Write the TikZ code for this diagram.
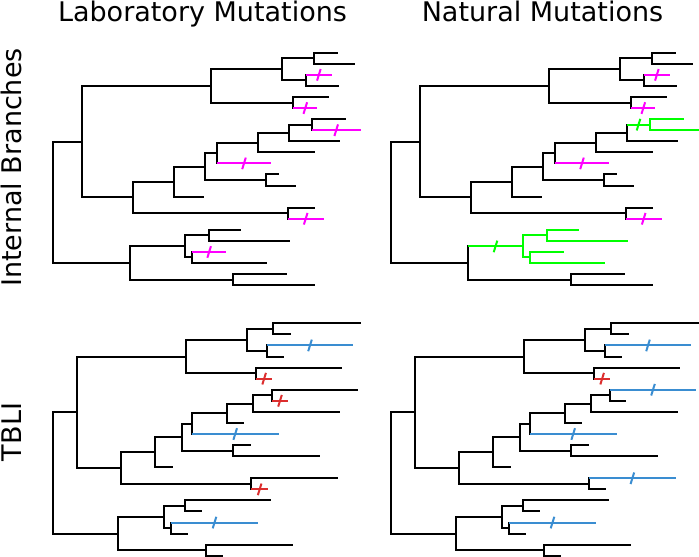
\documentclass[tikz,border=0pt]{standalone}
\usepackage{fontspec}
\setmainfont{DejaVu Sans}
\usetikzlibrary{calc}
\definecolor{labpink}{HTML}{FF00FF}
\definecolor{natgreen}{HTML}{00FF00}
\definecolor{tbliblue}{HTML}{3A8DD1}
\definecolor{tblired}{HTML}{DC2E2E}

\tikzset{
  branch/.style={line width=2pt,color=black},
  sidelabel/.style={rotate=90,anchor=base},
  title/.style={anchor=base},
}

% coordinates of the upper tree (internal nodes, then leaf ends)
\newcommand\uppertree{%
  \foreach \n/\x/\y in {root/52.7/14.5176,B/81.7/9.0352,D/210.7/4,F/282.3/2.5,H/314/1.5,
    I/306/3.5,G/293.3/5.5,E/133.3/14.0703,J/174.3/12.6406,L/205/11.2813,M/216.7/10.0625,
    O/258.3/9.125,P/289.3/8.25,Q/311.7/7.5,N/266/12.5,K/287.7/15.5,C/130/20,R/185/18.5,
    T/209/17.5,U/192.3/19.5,S/233.3/21.5}
    \coordinate (\n) at (\x,\y);
  \foreach \x [count=\i] in {338.3,355,331.7,339,328.7,317.3,345.7,360.7,340,315,271.3,
    279.3,295.7,204,315.3,323.7,241.3,290,226,266.7,286.7,315}
    \coordinate (l\i) at (\x,\i);
}
% coordinates of the lower tree
\newcommand\lowertree{%
  \foreach \n/\x/\y in {root/52.7/14.5176,B/77.3/9.0352,D/186/4,F/247.3/2.5,H/273.3/1.5,
    I/266.7/3.5,G/256/5.5,E/120.7/14.0703,J/155.3/12.6406,L/181.7/11.2813,M/191.7/10.0625,
    O/226.7/9.125,P/252.7/8.25,Q/271.7/7.5,N/232.7/12.5,K/251/15.5,C/117.7/20,R/164.3/18.5,
    T/185/17.5,U/171/19.5,S/205.7/21.5}
    \coordinate (\n) at (\x,\y);
  \foreach \x [count=\i] in {360.7,291,353.3,284.3,342.3,272.3,358.3,288.3,340,244,278.7,
    250.7,320,173,337.7,268.3,271.3,202.3,258,188.3,292.7,222.7}
    \coordinate (l\i) at (\x,\i);
}
\newcommand\drawtree{%
  \foreach \p/\c in {root/B,root/C,B/D,B/E,D/F,D/G,F/H,F/I,H/l1,H/l2,I/l3,I/l4,G/l5,G/l6,
    E/J,E/K,J/L,J/l14,L/M,L/N,M/O,M/l11,O/P,O/l10,P/Q,P/l9,Q/l7,Q/l8,N/l12,N/l13,K/l15,
    K/l16,C/R,C/S,R/T,R/U,T/l17,T/l18,U/l19,U/l20,S/l21,S/l22}
    \draw[branch] (\p) |- (\c);
}
% coloured branch with a mutation tick in its middle
\newcommand\mutbranch[3]{%
  \draw[branch,#1] (#2 |- #3) -- (#3);
  \draw[branch,#1] ($(#2 |- #3)!0.5!(#3)$) ++(-1.8pt,-5.8pt) -- ++(3.6pt,11.6pt);
}

\begin{document}
\begin{tikzpicture}[x=1pt,y=-1pt,font=\fontsize{27}{32}\selectfont]
  \useasboundingbox (0,0) rectangle (699,557);

  \node[title] (labtitle) at (202.5,21.7) {Laboratory Mutations};
  \node[title] (nattitle) at (542.5,21.7) {Natural Mutations};
  \node[sidelabel] (intlabel) at (21.7,167.5) {Internal Branches};
  \node[sidelabel] (tblilabel) at (21.7,432) {TBLI};

  % internal branches, laboratory
  \begin{scope}[y=-11.07pt,yshift=-41.63pt]
    \uppertree
    \drawtree
    \foreach \p/\c in {I/l3,G/l6,Q/l8,M/l11,K/l16,U/l19}
      {\mutbranch{labpink}{\p}{\c}}
  \end{scope}

  % internal branches, natural
  \begin{scope}[y=-11.07pt,yshift=-41.63pt,xshift=338pt]
    \uppertree
    \drawtree
    \foreach \p/\c in {I/l3,G/l6,M/l11,K/l16}
      {\mutbranch{labpink}{\p}{\c}}
    \mutbranch{natgreen}{P}{Q}
    \mutbranch{natgreen}{C}{R}
    \foreach \p/\c in {Q/l7,Q/l8,R/T,R/U,T/l17,T/l18,U/l19,U/l20}
      \draw[branch,natgreen] (\p) |- (\c);
  \end{scope}

  % TBLI, laboratory
  \begin{scope}[y=-11.07pt,yshift=-312.23pt]
    \lowertree
    \drawtree
    \foreach \p/\c in {I/l3,M/l11,U/l19}
      {\mutbranch{tbliblue}{\p}{\c}}
    \foreach \p/\c in {G/l6,Q/l8,K/l16}
      {\mutbranch{tblired}{\p}{\c}}
  \end{scope}

  % TBLI, natural
  \begin{scope}[y=-11.07pt,yshift=-312.23pt,xshift=338pt]
    \lowertree
    \drawtree
    \foreach \p/\c in {I/l3,Q/l7,M/l11,K/l15,U/l19}
      {\mutbranch{tbliblue}{\p}{\c}}
    \mutbranch{tblired}{G}{l6}
  \end{scope}
\end{tikzpicture}
\end{document}
